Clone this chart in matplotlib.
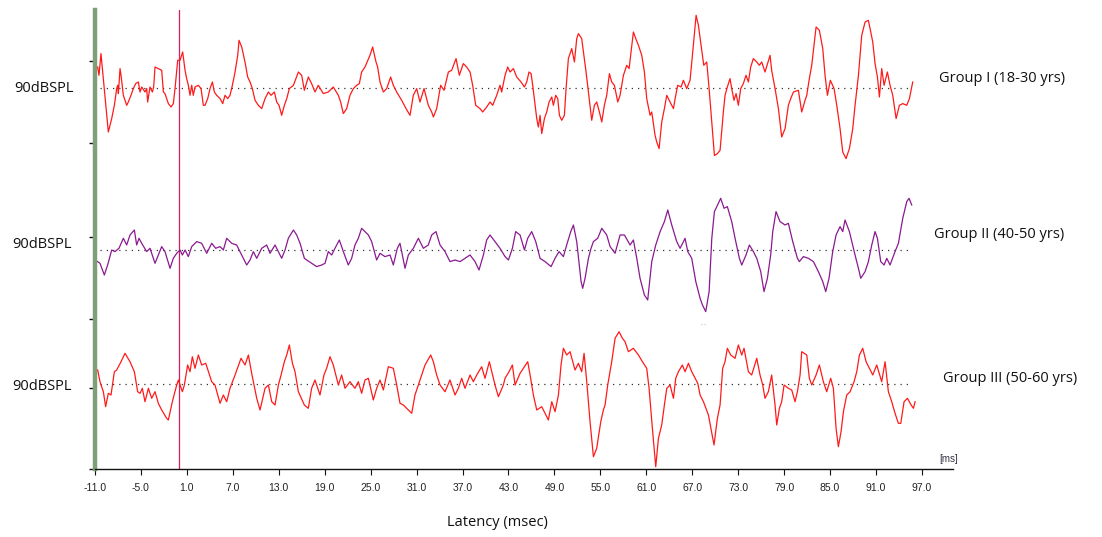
import matplotlib
matplotlib.use("Agg")
import matplotlib.pyplot as plt
import numpy as np

# ---------------- data (latency in ms, amplitude in arbitrary units) -------------
lat1 = [-10.65,-10.48,-10.22,-9.26,-8.82,-8.47,-8.17,-8.04,-7.95,-7.73,-7.60,-7.30,-6.86,-6.65,-6.30,-5.99,-5.69,-5.34,-5.12,-4.90,
        -4.47,-4.25,-4.12,-3.82,-3.51,-3.34,-3.16,-2.73,-2.29,-2.07,-1.86,-1.42,-1.07,-0.77,-0.55,-0.20,0.10,0.45,0.76,0.97,
        1.19,1.41,1.63,1.84,2.06,2.50,2.85,3.15,3.37,3.72,4.02,4.33,4.59,4.89,5.33,5.68,5.98,6.33,6.63,6.94,
        7.29,7.64,7.81,8.16,8.59,8.94,9.25,9.55,9.90,10.33,10.77,11.21,11.64,11.99,12.43,12.73,13.03,13.38,13.73,14.04,
        14.38,14.91,15.56,15.99,16.34,16.86,17.29,17.73,18.16,18.82,19.47,20.12,20.78,21.08,21.43,21.87,22.30,22.74,23.17,23.52,
        23.82,24.26,24.91,25.26,25.70,25.91,26.22,26.66,27.09,27.61,27.96,28.40,29.05,29.62,30.14,30.57,31.01,31.44,31.97,32.53,
        32.97,33.19,33.62,34.14,34.58,35.15,35.58,36.15,36.58,37.10,37.54,37.98,38.32,38.72,39.28,39.63,40.15,40.59,40.94,41.46,
        41.89,42.11,42.42,42.55,42.90,43.20,43.64,44.07,44.64,45.08,45.38,45.68,45.95,46.16,46.47,46.69,46.90,47.12,47.34,47.69,
        47.99,48.30,48.65,48.86,49.17,49.43,49.65,49.95,50.30,50.52,50.82,51.26,51.61,51.91,52.13,52.56,53.13,53.44,53.87,54.22,
        54.52,54.87,55.18,55.52,55.83,56.18,56.48,56.83,57.27,57.57,58.01,58.44,58.75,59.31,59.62,59.97,60.40,60.75,61.05,61.49,
        61.71,62.14,62.36,62.67,63.01,63.36,63.67,64.10,64.54,64.76,65.10,65.54,65.84,66.28,66.71,67.02,67.50,67.80,68.15,68.50,
        68.89,69.20,69.55,69.89,69.97,70.28,70.63,70.84,71.06,71.28,71.58,71.93,72.15,72.45,72.72,73.02,73.33,73.67,74.02,74.33,
        74.63,74.98,75.42,75.76,76.07,76.50,77.16,77.37,77.81,78.25,78.68,79.12,79.55,79.86,80.21,80.86,81.29,81.73,81.95,82.29,
        82.60,82.90,83.17,83.60,84.04,84.34,84.65,85.03,85.52,85.87,86.30,86.65,87.08,87.52,87.96,88.26,88.70,89.13,89.57,90.00,
        90.31,90.57,90.87,91.18,91.44,91.74,92.05,92.48,92.83,93.18,93.62,94.05,94.49,95.01,95.36,95.79]
amp1 = [21.3,13.0,34.7,-43.7,-30.3,-17.0,-0.3,3.0,-5.3,19.7,13.0,-7.0,-17.0,-13.7,-7.0,-0.3,4.7,6.3,-3.7,1.3,
        -3.7,-0.3,-13.7,1.3,-3.7,1.3,21.3,19.7,18.0,-3.7,-5.3,-15.3,-18.7,-15.3,-0.3,28.0,28.0,36.3,18.0,9.7,
        3.0,-7.0,3.0,-7.0,1.3,3.0,-0.3,-17.0,-17.0,-10.3,-0.3,6.3,-3.7,-7.0,-10.3,-15.3,-7.0,-10.3,-7.0,3.0,
        16.3,33.0,48.0,41.3,26.3,11.3,6.3,-0.3,-12.0,-17.0,-20.3,-10.3,-3.7,-7.0,-3.7,-13.7,-17.0,-27.0,-17.0,-10.3,
        -0.3,3.0,16.3,13.0,-2.0,11.3,4.7,-3.7,3.0,-5.3,-3.7,1.3,-7.0,-13.7,-25.3,-20.3,-7.0,-0.3,3.0,4.7,
        16.3,21.3,33.0,41.3,26.3,21.3,6.3,-3.7,-0.3,11.3,3.0,-3.7,-12.0,-20.3,-27.0,-7.0,-0.3,-13.7,-0.3,-17.0,
        -23.7,-28.7,-20.3,3.0,-2.0,16.3,18.0,29.7,13.0,24.7,21.3,16.3,3.0,-17.0,-20.3,-23.7,-18.7,-13.7,-17.0,-7.0,
        3.0,-3.7,8.0,13.0,21.3,16.3,19.7,11.3,6.3,1.3,6.3,16.3,14.7,3.0,-17.0,-30.3,-38.7,-27.0,-45.3,-30.3,
        -23.7,-13.7,-8.7,-17.0,-7.0,-10.3,-27.0,-32.0,-27.0,-0.3,29.7,39.7,26.3,49.7,54.7,49.7,16.3,-3.7,-32.0,-17.0,
        -13.7,-23.7,-33.7,-17.0,-7.0,14.7,6.3,3.0,-13.7,-7.0,13.0,23.0,19.7,56.3,49.7,43.0,33.0,16.3,-10.3,-27.0,
        -23.7,-47.0,-53.7,-60.3,-33.7,-20.3,-7.0,-13.7,-20.3,-10.3,3.0,1.3,8.0,-0.3,8.0,33.0,73.0,63.0,43.0,23.0,
        26.3,-0.3,-33.7,-67.0,-67.0,-65.3,-62.0,-43.7,-23.7,-7.0,1.3,9.7,-0.3,-12.0,-5.3,-17.0,-0.3,4.7,13.0,6.3,
        21.3,29.7,26.3,23.0,26.3,16.3,33.0,18.0,-0.3,-20.3,-48.7,-40.3,-17.0,-10.3,-3.7,-2.0,-23.7,-12.0,-7.0,9.7,
        23.0,43.0,61.3,58.0,39.7,13.0,-7.0,8.0,-0.3,-17.0,-40.3,-63.7,-70.3,-60.3,-40.3,-17.0,13.0,53.0,66.3,68.0,
        56.3,46.3,24.7,11.3,-8.7,19.7,3.0,16.3,3.0,-7.0,-30.3,-17.0,-15.3,-17.0,-10.3,6.3]

lat2 = [-10.65,-10.35,-9.78,-9.35,-8.82,-8.39,-7.87,-7.30,-6.86,-6.43,-5.86,-5.56,-5.25,-4.90,-4.25,-3.82,-3.16,-2.73,-2.29,-1.86,
        -1.20,-0.77,-0.33,0.10,0.41,0.76,1.19,1.63,2.28,2.93,3.59,4.24,4.76,5.33,5.76,6.20,6.85,7.50,8.16,8.81,
        9.25,9.68,10.12,10.77,11.42,11.86,12.51,13.38,13.82,14.25,14.91,15.34,15.78,16.34,16.64,17.29,17.95,18.60,19.04,19.47,
        19.91,20.34,20.91,21.43,22.08,22.52,22.95,23.39,23.82,24.26,24.70,25.13,25.78,26.22,26.87,27.53,27.96,28.48,28.83,29.49,
        29.92,30.57,31.23,31.88,32.53,32.97,33.53,34.06,34.71,35.36,36.02,36.67,37.32,37.98,38.63,39.15,39.72,40.15,40.59,41.24,
        41.89,42.55,42.99,43.51,43.94,44.51,45.08,45.51,46.03,46.56,47.12,47.77,48.56,49.08,49.60,50.17,50.60,51.13,51.48,51.91,
        52.48,52.69,53.00,53.44,53.78,54.09,54.65,55.18,55.83,56.27,56.92,57.57,58.14,58.88,59.31,59.75,60.18,60.75,61.18,61.71,
        62.23,62.80,63.36,63.80,64.32,64.97,65.41,66.06,66.41,66.93,67.46,68.02,68.33,68.76,69.20,69.55,69.89,70.10,70.71,71.15,
        71.58,72.15,72.59,73.15,73.46,74.02,74.46,74.98,75.42,75.94,76.37,76.81,77.24,77.51,77.94,78.46,79.12,79.55,80.12,80.73,
        80.99,81.51,82.16,82.82,83.47,84.04,84.43,84.86,85.34,85.78,86.30,86.65,86.95,87.52,88.26,88.70,89.00,89.57,90.00,90.44,
        90.87,91.18,91.61,92.05,92.40,92.83,93.48,93.92,94.49,95.01,95.31,95.66]
amp2 = [-11.3,-13.0,-24.7,-14.7,0.3,-1.3,2.0,12.0,5.3,15.3,20.3,5.3,12.0,7.0,-1.3,2.0,-13.0,-4.7,3.7,-1.3,
        -18.0,-8.0,-3.0,0.3,-4.7,0.3,-6.3,3.7,8.7,7.0,-3.0,7.0,2.0,3.7,0.3,12.0,7.0,5.3,-4.7,-14.7,
        -9.7,-1.3,-8.0,2.0,5.3,-3.0,5.3,-8.0,0.3,12.0,20.3,15.3,7.0,-8.0,-9.7,-13.0,-16.3,-14.7,-13.0,-1.3,
        -4.7,2.0,10.3,-1.3,-14.7,-8.0,5.3,12.0,22.0,18.7,15.3,8.7,-9.7,-3.0,-6.3,-4.7,-14.7,2.0,7.0,-18.0,
        -4.7,2.0,12.0,2.0,5.3,15.3,18.7,5.3,-1.3,-11.3,-9.7,-11.3,-8.0,-4.7,-11.3,-19.7,-4.7,10.3,15.3,8.7,
        2.0,-6.3,-9.7,2.0,18.7,15.3,0.3,12.0,18.7,8.7,-8.0,-11.3,-16.3,-8.0,-1.3,-6.3,5.3,18.7,25.3,8.7,
        -31.3,-38.0,-28.0,-8.0,2.0,8.7,12.0,22.0,15.3,3.7,-3.0,15.3,15.3,5.3,10.3,-8.0,-28.0,-44.7,-49.7,-11.3,
        5.3,18.7,28.7,40.3,25.3,8.7,2.0,12.0,-1.3,-8.0,-31.3,-48.0,-54.7,-61.3,-41.3,12.0,38.7,42.0,52.0,42.0,
        43.7,28.7,12.0,-8.0,-14.7,-4.7,5.3,-1.3,-8.0,-21.3,-41.3,-28.0,-4.7,18.7,38.7,28.7,25.3,27.0,8.7,-8.0,
        -11.3,-6.3,-8.0,-11.3,-21.3,-31.3,-41.3,-28.0,-1.3,15.3,23.7,18.7,30.3,18.7,-4.7,-18.0,-28.0,-21.3,-11.3,5.3,
        18.7,12.0,-11.3,-14.7,-8.0,-14.7,-1.3,7.0,32.0,48.7,52.0,45.3]

lat3 = [-10.65,-10.35,-9.91,-9.61,-9.26,-8.91,-8.47,-8.17,-7.60,-7.08,-6.43,-5.86,-5.43,-5.12,-4.82,-4.47,-4.03,-3.60,-3.16,-2.73,
        -2.29,-1.64,-1.42,-0.90,-0.33,-0.11,0.41,0.67,1.10,1.41,1.71,2.06,2.50,2.93,3.46,4.24,4.67,5.33,5.76,6.20,
        6.63,7.29,8.07,8.59,9.03,9.46,10.12,10.55,11.21,11.64,12.08,12.51,12.95,13.30,13.73,14.04,14.38,14.78,15.12,15.56,
        16.34,16.86,17.29,17.73,18.38,18.90,19.25,19.69,20.12,20.78,21.21,21.65,22.30,22.95,23.39,23.82,24.26,24.70,25.35,25.78,
        26.22,26.66,27.31,27.96,28.40,28.83,29.27,29.70,30.36,30.79,31.23,31.53,32.10,32.84,33.19,33.62,34.06,34.71,35.36,36.02,
        36.45,36.89,37.32,37.98,38.41,38.85,39.50,39.93,40.50,41.24,41.68,42.33,42.55,43.07,43.51,43.86,44.51,45.51,45.82,46.25,
        46.69,47.34,48.21,48.65,49.08,49.52,49.86,50.17,50.60,51.04,51.69,52.13,52.56,52.87,53.22,53.65,54.09,54.52,55.05,55.39,
        55.61,55.96,56.48,56.92,57.44,57.88,58.22,58.66,59.31,59.97,60.49,61.05,61.36,61.79,62.23,62.58,63.01,63.36,63.67,64.10,
        64.54,64.84,65.19,65.71,66.06,66.50,66.93,67.72,68.02,68.46,69.11,69.84,70.28,70.63,70.97,71.28,71.58,72.02,72.59,73.02,
        73.46,73.76,74.33,74.76,75.42,75.85,76.20,76.50,76.94,77.37,77.81,78.03,78.38,78.68,78.99,79.55,79.99,80.42,80.73,81.08,
        81.29,81.95,82.29,82.60,83.17,83.60,84.12,84.56,85.08,85.43,85.78,86.08,86.43,86.74,87.17,87.61,88.13,88.48,88.83,89.26,
        89.70,90.13,90.57,91.09,91.74,92.18,92.61,93.05,93.48,93.92,94.23,94.66,95.10,95.58,95.88,96.10]
amp3 = [14.0,2.3,-7.7,-22.7,-9.3,-11.0,12.3,14.0,22.3,30.7,22.3,12.3,-7.7,-9.3,-4.3,-17.7,-4.3,-14.3,-7.7,-19.3,
        -26.0,-34.3,-36.0,-17.7,-1.0,4.0,-7.7,-1.0,19.0,12.3,27.3,15.7,29.0,19.0,20.7,2.3,-1.0,-19.3,-11.0,-17.7,
        -4.3,9.0,25.7,19.0,29.0,10.7,-14.3,-26.0,-4.3,-1.0,-17.7,-21.0,-1.0,9.0,22.3,29.0,39.0,20.7,12.3,-7.7,
        -21.0,-24.3,-4.3,4.0,-11.0,9.0,15.7,27.3,19.0,-1.0,9.0,-4.3,2.3,-4.3,2.3,-9.3,4.0,5.7,-16.0,-4.3,
        4.0,-6.0,17.3,15.7,-1.0,-19.3,-21.0,-24.3,-29.3,-11.0,-1.0,5.7,19.0,29.0,22.3,9.0,-1.0,-7.7,4.0,-11.0,
        -4.3,5.7,-4.3,9.0,2.3,9.0,17.3,5.7,22.3,-1.0,-12.7,-1.0,5.7,12.3,19.0,-1.0,10.7,22.3,9.0,-11.0,
        -26.0,-22.7,-36.0,-17.7,-27.7,-11.0,19.0,35.7,29.0,32.3,14.0,20.7,12.3,30.7,2.3,-37.7,-72.7,-64.3,-37.7,-26.0,
        -21.0,-1.0,22.3,45.7,52.3,45.7,42.3,32.3,35.7,29.0,22.3,15.7,-4.3,-44.3,-82.7,-54.3,-41.0,-21.0,-4.3,-1.0,
        -14.3,5.7,12.3,19.0,12.3,20.7,12.3,0.7,-11.0,-17.7,-31.0,-61.0,-34.3,-21.0,15.7,22.3,35.7,29.0,25.7,39.0,
        29.0,35.7,12.3,9.0,25.7,9.0,-1.0,-14.3,-7.7,9.0,-21.0,-41.0,-24.3,-17.7,-1.0,-4.3,-6.0,-17.7,-7.7,9.0,
        32.3,29.0,5.7,-1.0,9.0,19.0,2.3,-7.7,5.7,-4.3,-44.3,-62.7,-47.7,-27.7,-11.0,-7.7,2.3,12.3,29.0,35.7,
        22.3,15.7,9.0,19.0,2.3,22.3,-7.7,-17.7,-29.3,-39.3,-39.3,-17.7,-14.3,-21.0,-24.3,-17.7]

xticks = [-11.0, -5.0, 1.0, 7.0, 13.0, 19.0, 25.0, 31.0, 37.0, 43.0, 49.0, 55.0,
          61.0, 67.0, 73.0, 79.0, 85.0, 91.0, 97.0]
group_labels = ["Group I (18-30 yrs)", "Group II (40-50 yrs)", "Group III (50-60 yrs)"]
level_label = "90dBSPL"

# ---------------- layout ----------------
W, H = 1102, 537
fig = plt.figure(figsize=(W / 100, H / 100), dpi=100)
fig.patch.set_facecolor("white")
ax_l, ax_r, ax_t, ax_b = 95, 953, 10, 469
ax = fig.add_axes([ax_l / W, 1 - ax_b / H, (ax_r - ax_l) / W, (ax_b - ax_t) / H])
ax.set_xlim(-11.0, 101.05)
ax.set_ylim(0, ax_b - ax_t)

offsets = [469 - 88.3, 469 - 250.3, 469 - 384.0]
colors = ["#ff1a1a", "#8a1a90", "#ff1a1a"]
lats = [lat1, lat2, lat3]
amps = [amp1, amp2, amp3]

for lat, amp, off, c in zip(lats, amps, offsets, colors):
    ax.axhline(off, xmin=(-10.3 + 11) / 112.05, xmax=(95.4 + 11) / 112.05,
               color="#333333", lw=0.9, ls=(0, (1, 4)), zorder=1)
    ax.plot(lat, np.asarray(amp) + off, color=c, lw=0.9, zorder=3)

# stimulus onset marker
ax.axvline(0.0, color="#d81b60", lw=0.9, zorder=2)

# spines
for s in ["top", "right"]:
    ax.spines[s].set_visible(False)
ax.spines["left"].set_color("#7f9f78")
ax.spines["left"].set_linewidth(3.2)
ax.spines["bottom"].set_color("#111111")
ax.spines["bottom"].set_linewidth(1.0)

ax.set_xticks(xticks)
ax.set_xticklabels([f"{t:.1f}" for t in xticks], fontsize=7.5, color="#222222",
                   family="Liberation Sans")
ax.tick_params(axis="x", direction="out", length=4, width=0.8, pad=6, color="#111111")
yt_px = [60.7, 142.7, 237.0, 319.0, 387.7, 469.0]
ax.set_yticks([469 - p for p in yt_px])
ax.set_yticklabels([])
ax.tick_params(axis="y", direction="out", length=4, width=1.0, color="#111111")

# texts
def ftext(x, y, s, **kw):
    fig.text(x / W, 1 - y / H, s, **kw)

lab_font = dict(family="Open Sans", color="#111111")
for (x, y) in [(44, 88), (42, 245), (42, 386)]:
    ftext(x, y, level_label, ha="center", va="center", fontsize=10.5, **lab_font)
for (x, y), s in zip([(1002, 78), (999, 235), (1010, 378)], group_labels):
    ftext(x, y, s, ha="center", va="center", fontsize=10.5, **lab_font)
ftext(497, 523, "Latency (msec)", ha="center", va="center", fontsize=10.5, **lab_font)
ftext(949, 459, "[ms]", ha="center", va="center", fontsize=7, color="#333344",
      family="Liberation Sans")
ftext(704, 325, "- -", ha="center", va="center", fontsize=4, color="#777777",
      family="Liberation Sans")

fig.savefig("out.png", dpi=100, facecolor="white")
